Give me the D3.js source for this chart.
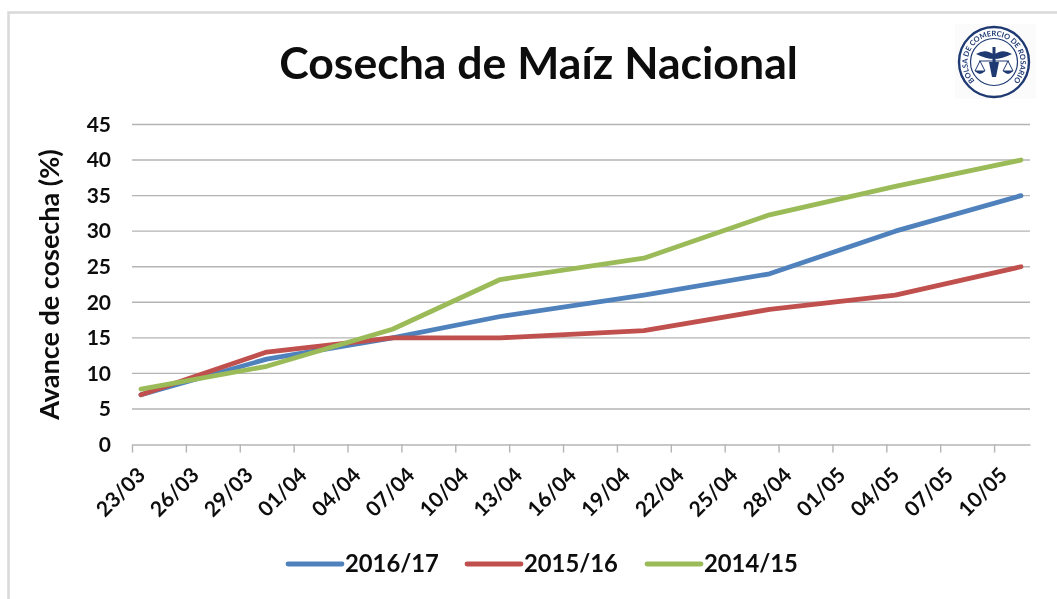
<!DOCTYPE html>
<html>
<head>
<meta charset="utf-8">
<script src="https://cdn.jsdelivr.net/npm/d3@7"></script>
<style>
  html, body { margin: 0; background: #fff; }
  svg { filter: blur(0.35px); }
  text { font-family: Lato, "Open Sans", sans-serif; font-weight: 700; fill: #0d0d0d; }
  .axis path, .axis line { stroke: #b4b4b4; stroke-width: 1.4px; }
</style>
</head>
<body>
<div id="chart"></div>
<script>
const title = "Cosecha de Maíz Nacional";
const yLabel = "Avance de cosecha (%)";
const dates = ["2017-03-23", "2017-03-30", "2017-04-06", "2017-04-12", "2017-04-20", "2017-04-27", "2017-05-04", "2017-05-11"];
const v2016 = [7, 12, 15, 18, 21, 24, 30, 35];
const v2015 = [7, 13, 15, 15, 16, 19, 21, 25];
const v2014 = [7.8, 11, 16.2, 23.2, 26.2, 32.3, 36.3, 40];
const seriesNames = ["2016/17", "2015/16", "2014/15"];
const seriesColors = ["#4f81bd", "#c0504d", "#9bbb59"];
const yTicks = [0, 5, 10, 15, 20, 25, 30, 35, 40, 45];

const W = 1057, H = 599;
const m = { t: 124.5, r: 27, b: 154.5, l: 132 };
const svg = d3.select("#chart").append("svg").attr("width", W).attr("height", H).style("display", "block");
const parse = d3.utcParse("%Y-%m-%d"), fmt = d3.utcFormat("%d/%m");

// marco de la imagen
svg.append("rect").attr("x", 8.5).attr("y", 12.5).attr("width", W + 20).attr("height", H + 20)
  .attr("fill", "none").attr("stroke", "#d9d9d9").attr("stroke-width", 2.5);

// eje de fechas: cada dia es una banda, el punto cae al centro
const start = parse(dates[0]), end = d3.utcDay.offset(parse(dates[dates.length - 1]), 1);
const x = d3.scaleUtc().domain([start, end]).range([m.l, W - m.r]);
const y = d3.scaleLinear().domain([0, 45]).range([H - m.b, m.t]);
const mid = s => d3.utcHour.offset(parse(s), 12);

// grid
svg.append("g").selectAll("line").data(yTicks.filter(d => d > 0)).join("line")
  .attr("x1", m.l).attr("x2", W - m.r).attr("y1", d => y(d)).attr("y2", d => y(d))
  .attr("stroke", "#b4b4b4").attr("stroke-width", 1.4);

// ejes
const gx = svg.append("g").attr("class", "axis").attr("transform", `translate(0,${H - m.b})`)
  .call(d3.axisBottom(x).tickValues(d3.utcDay.range(start, end, 3)).tickFormat(fmt).tickSize(8).tickSizeOuter(0));
gx.selectAll("text").attr("font-size", 21)
  .attr("text-anchor", "end").attr("x", 0).attr("y", 0).attr("dx", 0).attr("dy", 0)
  .attr("transform", "translate(14,32) rotate(-45)");

const gy = svg.append("g").attr("class", "axis").attr("transform", `translate(${m.l},0)`)
  .call(d3.axisLeft(y).tickValues(yTicks).tickSize(0));
gy.select("path").remove();
gy.selectAll("text").attr("font-size", 21).attr("x", -21);

// lineas
const line = d3.line().x((d, i) => x(mid(dates[i]))).y(d => y(d));
[v2016, v2015, v2014].forEach((vals, i) => {
  svg.append("path").attr("d", line(vals)).attr("fill", "none")
    .attr("stroke", seriesColors[i]).attr("stroke-width", 4.8)
    .attr("stroke-linecap", "round").attr("stroke-linejoin", "round");
});

// titulos
svg.append("text").attr("x", 538.5).attr("y", 79).attr("text-anchor", "middle").attr("font-size", 44.6).text(title);
svg.append("text").attr("transform", "translate(59,284.5) rotate(-90)").attr("text-anchor", "middle")
  .attr("font-size", 27).text(yLabel);

// leyenda
const legendX = [288, 467, 647];
const lg = svg.append("g").selectAll("g").data(seriesNames).join("g")
  .attr("transform", (d, i) => `translate(${legendX[i]},564)`);
lg.append("line").attr("x2", 54).attr("stroke", (d, i) => seriesColors[i])
  .attr("stroke-width", 4.8).attr("stroke-linecap", "round");
lg.append("text").attr("x", 57).attr("y", 8).attr("font-size", 23.8).text(d => d);

// logo Bolsa de Comercio de Rosario
const logo = svg.append("g").attr("transform", "translate(994,62)");
const navy = "#1f3a73";
svg.insert("rect", "g").attr("x", 955).attr("y", 24).attr("width", 81).attr("height", 75).attr("fill", "#fbfbfb");
logo.append("circle").attr("r", 35).attr("fill", "#fff").attr("stroke", navy).attr("stroke-width", 2.4);
logo.append("circle").attr("r", 23.5).attr("fill", "none").attr("stroke", navy).attr("stroke-width", 1.2);
svg.append("defs").append("path").attr("id", "arc-logo").attr("d", "M-19,19 A26.5,26.5 0 1 1 19,19");
logo.append("text").attr("font-size", 7.4).style("fill", navy)
  .append("textPath").attr("href", "#arc-logo").attr("startOffset", "50%").attr("text-anchor", "middle")
  .text("BOLSA DE COMERCIO DE ROSARIO");
// caduceo y balanza
logo.append("path").attr("fill", navy).attr("d", "M-1.5,-15 h3 v30 h-3 z M-18,-8 Q-8,-14 0,-7 Q8,-14 18,-8 Q8,-3 0,-3 Q-8,-3 -18,-8 z");
logo.append("path").attr("fill", "none").attr("stroke", navy).attr("stroke-width", 1)
  .attr("d", "M-15,-1 H15 M-14,-1 L-19,9 H-9 Z M14,-1 L9,9 H19 Z");
logo.append("path").attr("fill", navy).attr("d", "M-19,9 Q-14,15 -9,9 Z M9,9 Q14,15 19,9 Z M-5,0 L5,0 L2,15 L-2,15 Z");
</script>
</body>
</html>
